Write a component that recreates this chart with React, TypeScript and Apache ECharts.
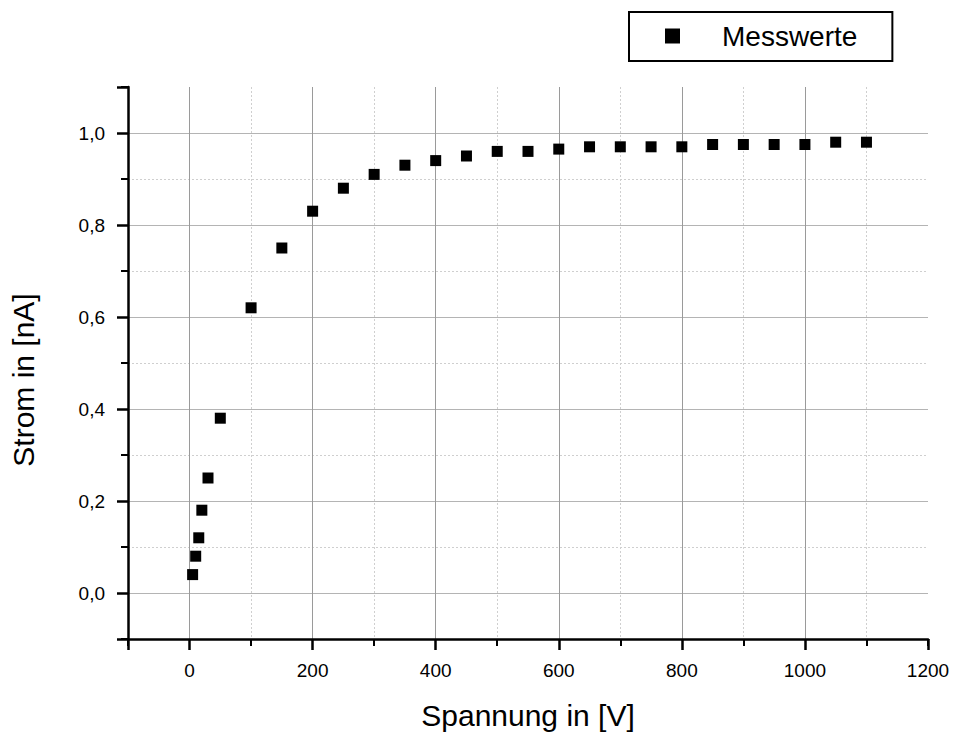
import React, { useEffect, useRef } from "react";
import * as echarts from "echarts";

const voltages = [5, 10, 15, 20, 30, 50, 100, 150, 200, 250, 300, 350, 400, 450, 500, 550, 600, 650, 700, 750, 800, 850, 900, 950, 1000, 1050, 1100];
const currents = [0.04, 0.08, 0.12, 0.18, 0.25, 0.38, 0.62, 0.75, 0.83, 0.88, 0.91, 0.93, 0.94, 0.95, 0.96, 0.96, 0.965, 0.97, 0.97, 0.97, 0.97, 0.975, 0.975, 0.975, 0.975, 0.98, 0.98];
const xMajorTicks = [0, 200, 400, 600, 800, 1000, 1200];
const yMajorTicks = [0, 0.2, 0.4, 0.6, 0.8, 1.0];
const seriesName = "Messwerte";
const xTitle = "Spannung in [V]";
const yTitle = "Strom in [nA]";

const FONT = "Liberation Sans, Arial, sans-serif";

export default function App() {
  const ref = useRef<HTMLDivElement>(null);
  useEffect(() => {
    if (!ref.current) return;
    const chart = echarts.init(ref.current, undefined, { renderer: "svg" });
    const fmtY = (v: number) => v.toFixed(1).replace(".", ",");
    const isIn = (arr: number[], v: number) => arr.some((t) => Math.abs(t - v) < 1e-6);
    chart.setOption({
      animation: false,
      backgroundColor: "#fff",
      textStyle: { fontFamily: FONT },
      grid: { left: 128, width: 800, top: 87, height: 552, containLabel: false },
      legend: {
        left: 629,
        top: 12,
        data: [seriesName],
        icon: "rect",
        itemWidth: 15,
        itemHeight: 15,
        itemStyle: { color: "#000", opacity: 1 },
        borderColor: "#000",
        borderWidth: 2,
        borderRadius: 0,
        padding: [9, 35, 10, 36],
        textStyle: { fontSize: 28, color: "#000", fontFamily: FONT, padding: [0, 0, 0, 37], lineHeight: 30 },
      },
      xAxis: [
        {
          type: "value",
          position: "bottom",
          min: -100,
          max: 1200,
          splitNumber: 6,
          name: xTitle,
          nameLocation: "middle",
          nameGap: 61,
          nameTextStyle: { fontSize: 30, color: "#000", fontFamily: FONT },
          axisLine: { show: true, onZero: false, lineStyle: { color: "#000", width: 2.5 } },
          axisTick: { show: true, inside: false, length: 11, lineStyle: { color: "#000", width: 2.5 } },
          axisLabel: {
            show: true,
            margin: 22,
            fontSize: 19,
            color: "#000",
            fontFamily: FONT,
            formatter: (v: number) => (isIn(xMajorTicks, v) ? String(v) : ""),
          },
          splitLine: { show: true, showMinLine: false, showMaxLine: false, lineStyle: { color: "#9a9a9a", width: 1 } },
          z: 5,
        },
        {
          type: "value",
          position: "bottom",
          offset: 0,
          min: -100,
          max: 1200,
          interval: 200,
          axisLine: { show: false, onZero: false },
          axisTick: { show: true, inside: false, length: 7, lineStyle: { color: "#000", width: 2 } },
          axisLabel: { show: false },
          splitLine: { show: true, showMinLine: false, showMaxLine: false, lineStyle: { color: "#cfcfcf", width: 1, type: [2, 2] } },
          z: 4,
        },
      ],
      yAxis: [
        {
          type: "value",
          position: "left",
          min: -0.1,
          max: 1.1,
          splitNumber: 6,
          name: yTitle,
          nameLocation: "middle",
          nameGap: 90,
          nameTextStyle: { fontSize: 30, color: "#000", fontFamily: FONT, padding: [0, 34, 0, 0] },
          axisLine: { show: true, onZero: false, lineStyle: { color: "#000", width: 2.5 } },
          axisTick: { show: true, inside: false, length: 11, lineStyle: { color: "#000", width: 2.5 } },
          axisLabel: {
            show: true,
            margin: 23,
            fontSize: 19,
            color: "#000",
            fontFamily: FONT,
            formatter: (v: number) => (isIn(yMajorTicks, v) ? fmtY(v) : ""),
          },
          splitLine: { show: true, showMinLine: false, showMaxLine: false, lineStyle: { color: "#b4b4b4", width: 1 } },
          z: 5,
        },
        {
          type: "value",
          position: "left",
          offset: 0,
          min: -0.1,
          max: 1.1,
          interval: 0.2,
          axisLine: { show: false, onZero: false },
          axisTick: { show: true, inside: false, length: 7, lineStyle: { color: "#000", width: 2 } },
          axisLabel: { show: false },
          splitLine: { show: true, showMinLine: false, showMaxLine: false, lineStyle: { color: "#cfcfcf", width: 1, type: [2, 2] } },
          z: 4,
        },
      ],
      series: [
        {
          name: seriesName,
          type: "scatter",
          xAxisIndex: 0,
          yAxisIndex: 0,
          symbol: "rect",
          symbolSize: 11,
          itemStyle: { color: "#000", opacity: 1 },
          data: voltages.map((v, i) => [v, currents[i]]),
          z: 10,
        },
      ],
    });
    return () => chart.dispose();
  }, []);
  return <div ref={ref} style={{ position: "fixed", left: 0, top: 0, width: 959, height: 737 }} />;
}
